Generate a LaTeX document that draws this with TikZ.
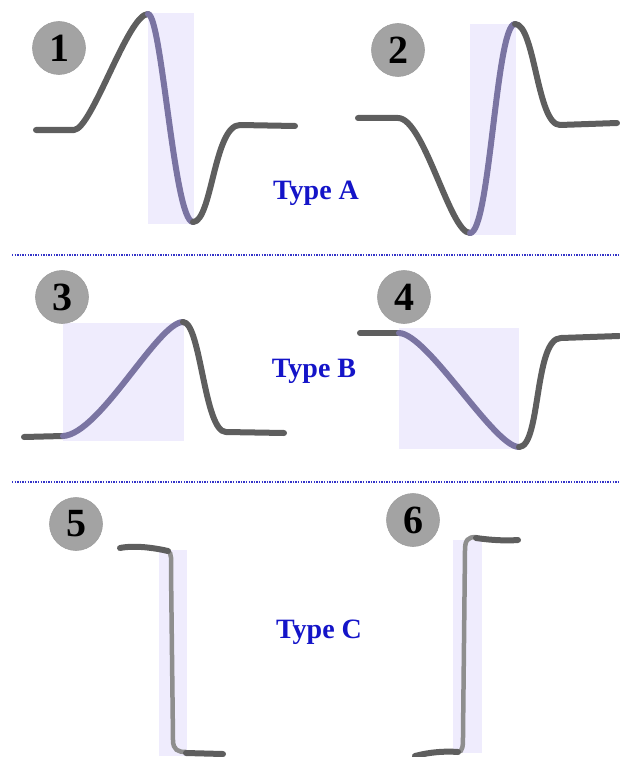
\documentclass[tikz,border=0pt]{standalone}
\usepackage{fontspec}
\setmainfont{Liberation Serif}
\definecolor{wavegray}{HTML}{5E5E5E}
\definecolor{wavepurple}{HTML}{7A74A2}
\definecolor{shadelav}{HTML}{EFECFD}
\definecolor{badgegray}{HTML}{A3A3A3}
\definecolor{typeblue}{HTML}{1414C8}
\definecolor{sepblue}{HTML}{3434C8}
\definecolor{steplight}{HTML}{8E8E8E}
\tikzset{
  wave/.style={line width=6pt, wavegray, line cap=round, line join=round},
  waveon/.style={line width=6pt, wavepurple, line cap=round},
  stepline/.style={line width=4.5pt, steplight, line cap=round},
  shadebox/.style={fill=shadelav},
  badge/.style={circle, fill=badgegray, draw=black!38, line width=0.6pt, minimum size=53pt, inner sep=0pt, font=\fontsize{40}{40}\selectfont\bfseries},
  typelabel/.style={text=typeblue, font=\fontsize{28}{30}\selectfont\bfseries},
  sepline/.style={sepblue, line width=1.4pt, dash pattern=on 1.3pt off 1.3pt}
}
\begin{document}
\begin{tikzpicture}[x=1pt, y=-1pt]
\useasboundingbox (0,0) rectangle (619,757);

% Type A
\fill[shadebox] (148,13) rectangle (194,224);
\fill[shadebox] (470,24) rectangle (516,235);
\draw[wave] (36,130) -- (74,130) .. controls (92,129) and (128,14) .. (148,14);
\draw[waveon] (148,14) .. controls (162,15) and (174,222) .. (193,222);
\draw[wave] (193,222) .. controls (212,222) and (214,125) .. (240,125) -- (295,126);
\draw[wave] (358,118) -- (398,118) .. controls (424,118) and (450,233) .. (470,233);
\draw[waveon] (470,233) .. controls (490,233) and (496,24) .. (515,24);
\draw[wave] (515,24) .. controls (535,24) and (537,125) .. (560,125) -- (617,123);
\node[badge] (b1) at (59,48) {1};
\node[badge] (b2) at (398,50) {2};
\node[typelabel] (ta) at (316,193) {Type A};

% separators
\draw[sepline] (12,255) -- (619,255);
\draw[sepline] (12,482) -- (619,482);

% Type B
\fill[shadebox] (63,323) rectangle (184,441);
\fill[shadebox] (399,328) rectangle (519,449);
\draw[wave] (24,437) -- (63,436);
\draw[waveon] (63,436) .. controls (100,434) and (158,322) .. (183,322);
\draw[wave] (183,322) .. controls (201,322) and (204,432) .. (226,432) -- (284,433);
\draw[wave] (360,333) -- (399,333);
\draw[waveon] (399,333) .. controls (428,334) and (494,447) .. (519,447);
\draw[wave] (519,447) .. controls (541,447) and (534,338) .. (561,338) -- (619,336);
\node[badge] (b3) at (62,297) {3};
\node[badge] (b4) at (404,297) {4};
\node[typelabel] (tb) at (314,371) {Type B};

% Type C
\fill[shadebox] (159,550) rectangle (187,756);
\fill[shadebox] (453,540) rectangle (482,753);
\draw[stepline] (168,551) .. controls (172,553) and (171,560) .. (171,570) -- (173,740) .. controls (173,750) and (178,752) .. (186,752);
\draw[wave] (120,548) .. controls (135,545) and (155,548) .. (168,551);
\draw[wave] (186,753) -- (223,754);
\draw[stepline] (458,752) .. controls (463,752) and (463,745) .. (463,735) -- (465,550) .. controls (465,540) and (468,537) .. (476,537);
\draw[wave] (415,756) .. controls (430,752) and (445,751) .. (458,752);
\draw[wave] (476,538) .. controls (490,540) and (505,541) .. (518,540);
\node[badge] (b5) at (76,524) {5};
\node[badge] (b6) at (413,520) {6};
\node[typelabel] (tc) at (319,632) {Type C};
\end{tikzpicture}
\end{document}
